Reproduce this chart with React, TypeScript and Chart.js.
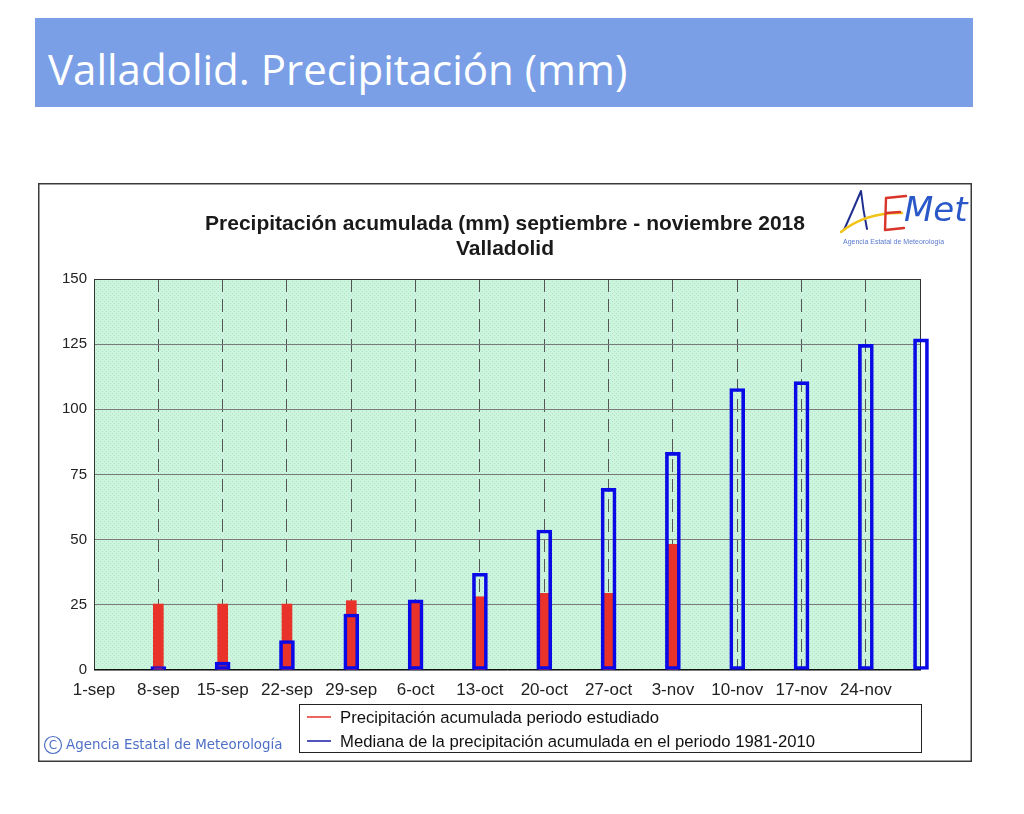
import React, { useEffect, useRef } from "react";
import { Chart, registerables } from "chart.js";

Chart.register(...registerables);

// Week labels on the time axis
const TICK_LABELS = ["1-sep", "8-sep", "15-sep", "22-sep", "29-sep", "6-oct", "13-oct", "20-oct", "27-oct", "3-nov", "10-nov", "17-nov", "24-nov"];
const TICK_DATES = ["2018-09-01", "2018-09-08", "2018-09-15", "2018-09-22", "2018-09-29", "2018-10-06", "2018-10-13", "2018-10-20", "2018-10-27", "2018-11-03", "2018-11-10", "2018-11-17", "2018-11-24"];

// Accumulated precipitation in the studied period (mm)
const OBSERVED_DATES = ["2018-09-08", "2018-09-15", "2018-09-22", "2018-09-29", "2018-10-06", "2018-10-13", "2018-10-20", "2018-10-27", "2018-11-03"];
const OBSERVED_MM = [25.3, 25.3, 25.3, 26.6, 26.6, 28.1, 29.4, 29.4, 48.2];

// Median accumulated precipitation 1981-2010 (mm)
const MEDIAN_DATES = ["2018-09-08", "2018-09-15", "2018-09-22", "2018-09-29", "2018-10-06", "2018-10-13", "2018-10-20", "2018-10-27", "2018-11-03", "2018-11-10", "2018-11-17", "2018-11-24", "2018-11-30"];
const MEDIAN_MM = [1.3, 3.0, 11.3, 21.5, 26.9, 37.1, 53.7, 69.7, 83.5, 108.0, 110.6, 124.9, 127.0];

const Y_TICKS = [0, 25, 50, 75, 100, 125, 150];

const TITLE_LINES = ["Precipitación acumulada (mm) septiembre - noviembre 2018", "Valladolid"];
const LEGEND_LABELS = ["Precipitación acumulada periodo estudiado", "Mediana de la precipitación acumulada en el periodo 1981-2010"];

const START = Date.UTC(2018, 8, 1);
const dayOf = (iso: string) => {
  const [y, m, d] = iso.split("-").map(Number);
  return Math.round((Date.UTC(y, m - 1, d) - START) / 86400000);
};
const END_DAY = dayOf("2018-11-30");

const RED = "#e8322a";
const BLUE = "#0a0ae6";
const FONT = "'Liberation Sans', Arial, sans-serif";

function makePattern(ctx: CanvasRenderingContext2D) {
  const tile = document.createElement("canvas");
  tile.width = 4;
  tile.height = 4;
  const t = tile.getContext("2d")!;
  t.fillStyle = "#cbf5dd";
  t.fillRect(0, 0, 4, 4);
  t.fillStyle = "#b4e0c8";
  t.fillRect(0, 0, 1, 1);
  t.fillRect(2, 2, 1, 1);
  return ctx.createPattern(tile, "repeat");
}

const decorPlugin = {
  id: "decor",
  beforeDraw(chart: any) {
    const { ctx, chartArea: a, width, height } = chart;
    ctx.save();
    ctx.fillStyle = "#ffffff";
    ctx.fillRect(0, 0, width, height);
    ctx.fillStyle = makePattern(ctx) || "#cbf5dd";
    ctx.fillRect(a.left, a.top, a.right - a.left, a.bottom - a.top);
    ctx.restore();
  },
  beforeDatasetsDraw(chart: any) {
    const { ctx, chartArea: a } = chart;
    ctx.save();
    ctx.strokeStyle = "#333333";
    ctx.lineWidth = 1;
    ctx.strokeRect(Math.round(a.left) + 0.5, Math.round(a.top) + 0.5, Math.round(a.right - a.left) - 1, Math.round(a.bottom - a.top) - 1);
    ctx.strokeStyle = "#111111";
    ctx.beginPath();
    ctx.moveTo(a.left, Math.round(a.bottom) - 0.5);
    ctx.lineTo(a.right, Math.round(a.bottom) - 0.5);
    ctx.stroke();
    ctx.restore();
  },
  afterDraw(chart: any) {
    const { ctx, width, height } = chart;
    ctx.save();
    // outer frame
    ctx.strokeStyle = "#3a3a3a";
    ctx.lineWidth = 1.5;
    ctx.strokeRect(0.75, 0.75, width - 1.5, height - 1.5);

    // title
    ctx.fillStyle = "#1a1a1a";
    ctx.font = `bold 21px ${FONT}`;
    ctx.textAlign = "center";
    ctx.textBaseline = "alphabetic";
    ctx.fillText(TITLE_LINES[0], width / 2, 47);
    ctx.fillText(TITLE_LINES[1], width / 2, 72);

    // legend box
    const lx = 261, ly = 521, lw = 622, lh = 48;
    ctx.fillStyle = "#ffffff";
    ctx.fillRect(lx, ly, lw, lh);
    ctx.strokeStyle = "#222222";
    ctx.lineWidth = 1;
    ctx.strokeRect(lx + 0.5, ly + 0.5, lw, lh);
    const rows = [
      { color: RED, y: 534, label: LEGEND_LABELS[0] },
      { color: "#1a1aa8", y: 558, label: LEGEND_LABELS[1] },
    ];
    ctx.textAlign = "left";
    ctx.textBaseline = "middle";
    ctx.font = `16.7px ${FONT}`;
    rows.forEach((r) => {
      ctx.strokeStyle = r.color;
      ctx.lineWidth = 1.5;
      ctx.beginPath();
      ctx.moveTo(269, r.y);
      ctx.lineTo(293, r.y);
      ctx.stroke();
      ctx.fillStyle = "#111111";
      ctx.fillText(r.label, 302, r.y + 1);
    });

    // copyright
    ctx.strokeStyle = "#4d6fc5";
    ctx.lineWidth = 1.2;
    ctx.beginPath();
    ctx.arc(15, 562, 8.5, 0, Math.PI * 2);
    ctx.stroke();
    ctx.fillStyle = "#4d6fc5";
    ctx.font = `12px 'DejaVu Sans', Verdana, sans-serif`;
    ctx.textAlign = "center";
    ctx.fillText("C", 15, 562.5);
    ctx.textAlign = "left";
    ctx.font = `13.4px 'DejaVu Sans', Verdana, sans-serif`;
    ctx.fillText("Agencia Estatal de Meteorología", 28, 563);

    // AEMet logo
    const ox = 802, oy = 5;
    ctx.lineCap = "round";
    ctx.lineJoin = "round";
    ctx.strokeStyle = "#1f2f8f";
    ctx.lineWidth = 2;
    ctx.beginPath();
    ctx.moveTo(ox + 4, oy + 42);
    ctx.quadraticCurveTo(ox + 13, oy + 22, ox + 21, oy + 3);
    ctx.quadraticCurveTo(ox + 23, oy + 22, ox + 27, oy + 41);
    ctx.stroke();
    ctx.strokeStyle = "#f2c417";
    ctx.lineWidth = 2.5;
    ctx.beginPath();
    ctx.moveTo(ox + 1, oy + 44);
    ctx.quadraticCurveTo(ox + 26, oy + 24, ox + 62, oy + 25);
    ctx.stroke();
    ctx.strokeStyle = "#d9352b";
    ctx.lineWidth = 2.4;
    ctx.beginPath();
    ctx.moveTo(ox + 66, oy + 8);
    ctx.lineTo(ox + 46, oy + 10);
    ctx.lineTo(ox + 45, oy + 42);
    ctx.lineTo(ox + 64, oy + 40);
    ctx.moveTo(ox + 46, oy + 25);
    ctx.lineTo(ox + 60, oy + 24);
    ctx.stroke();
    ctx.fillStyle = "#2a58c8";
    ctx.font = `italic 34px 'DejaVu Sans', sans-serif`;
    ctx.fillText("Met", ox + 64, oy + 24);
    ctx.font = `7px ${FONT}`;
    ctx.fillStyle = "#5a7ad0";
    ctx.fillText("Agencia Estatal de Meteorología", ox + 3, oy + 54);
    ctx.restore();
  },
};

export default function App() {
  const ref = useRef<HTMLCanvasElement>(null);

  useEffect(() => {
    if (!ref.current) return;
    const tickDays = TICK_DATES.map(dayOf);
    const chart = new Chart(ref.current, {
      type: "bar",
      data: {
        datasets: [
          {
            label: LEGEND_LABELS[1],
            data: MEDIAN_DATES.map((d, i) => ({ x: dayOf(d), y: MEDIAN_MM[i] })),
            backgroundColor: "rgba(0,0,0,0)",
            borderColor: BLUE,
            borderWidth: 3,
            borderSkipped: false,
            barThickness: 15,
            grouped: false,
            clip: false,
          },
          {
            label: LEGEND_LABELS[0],
            data: OBSERVED_DATES.map((d, i) => ({ x: dayOf(d), y: OBSERVED_MM[i] })),
            backgroundColor: RED,
            borderWidth: 0,
            barThickness: 10,
            grouped: false,
            clip: false,
          },
        ],
      },
      options: {
        responsive: false,
        animation: false,
        events: [],
        layout: { padding: { left: 0, right: 51, top: 96, bottom: 62 } },
        plugins: { legend: { display: false }, tooltip: { enabled: false }, title: { display: false } },
        scales: {
          x: {
            type: "linear",
            min: 0,
            max: END_DAY,
            offset: false,
            afterBuildTicks: (s: any) => {
              s.ticks = tickDays.map((v) => ({ value: v }));
            },
            afterFit: (s: any) => {
              s.height = 30;
            },
            ticks: {
              autoSkip: false,
              maxRotation: 0,
              padding: 10,
              color: "#222222",
              font: { family: FONT, size: 17 },
              callback: (_v: any, i: number) => TICK_LABELS[i],
            },
            grid: {
              offset: false,
              drawTicks: false,
              color: (c: any) => (c.tick && c.tick.value === 0 ? "rgba(0,0,0,0)" : "#555555"),
              lineWidth: 1,
            },
            border: { display: false, dash: [13, 7] },
          },
          y: {
            min: 0,
            max: 150,
            afterBuildTicks: (s: any) => {
              s.ticks = Y_TICKS.map((v) => ({ value: v }));
            },
            afterFit: (s: any) => {
              s.width = 56;
            },
            ticks: {
              padding: 7,
              color: "#222222",
              font: { family: FONT, size: 15 },
            },
            grid: { drawTicks: false, color: "#7a7a7a", lineWidth: 1 },
            border: { display: false },
          },
        },
      },
      plugins: [decorPlugin],
    } as any);
    return () => chart.destroy();
  }, []);

  return (
    <div style={{ position: "absolute", left: 0, top: 0, width: 1024, height: 814, background: "#ffffff" }}>
      <div
        style={{
          position: "absolute",
          left: 35,
          top: 18,
          width: 938,
          height: 89,
          background: "#7b9fe6",
        }}
      >
        <div
          style={{
            position: "absolute",
            left: 13,
            top: 30,
            fontFamily: "'Open Sans', sans-serif",
            fontSize: 42,
            lineHeight: "42px",
            color: "#ffffff",
            whiteSpace: "nowrap",
          }}
        >
          Valladolid. Precipitación (mm)
        </div>
      </div>
      <canvas
        ref={ref}
        width={934}
        height={579}
        style={{ position: "absolute", left: 38, top: 183, width: 934, height: 579 }}
      />
    </div>
  );
}
